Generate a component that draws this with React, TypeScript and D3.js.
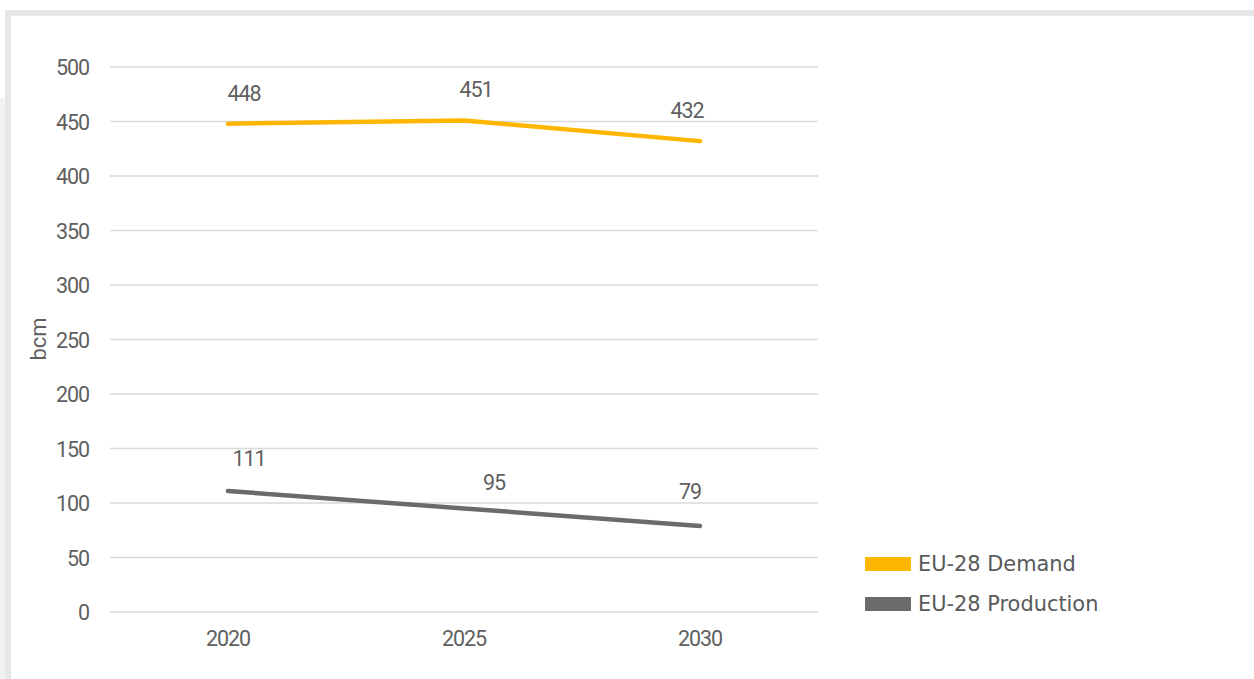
import React from "react";
import * as d3 from "d3";

const years = ["2020", "2025", "2030"];
const demand = [448, 451, 432];
const production = [111, 95, 79];
const yTicks = [0, 50, 100, 150, 200, 250, 300, 350, 400, 450, 500];
const seriesNames = ["EU-28 Demand", "EU-28 Production"];
const seriesColors = ["#FFB600", "#6B6B6B"];
// manual label nudges (layout only)
const demandLabelOffsets = [[16, -23], [12, -23], [-13, -23]];
const productionLabelOffsets = [[21, -25], [30, -18], [-10, -27]];

export default function App() {
  const W = 1254, H = 679;
  const x = d3.scalePoint<string>().domain(years).range([110, 818]).padding(0.5);
  const y = d3.scaleLinear().domain([0, 500]).range([612, 67]);
  const line = d3.line<number>().x((_, i) => x(years[i])!).y((v) => y(v));
  const font = "Roboto, 'DejaVu Sans Condensed', sans-serif";
  const fs = 21.5;
  const ls = -1.1;
  const series = [demand, production];
  const offsets = [demandLabelOffsets, productionLabelOffsets];
  return (
    <svg width={W} height={H} style={{ position: "absolute", left: 0, top: 0 }}>
      <rect x={0} y={0} width={W} height={H} fill="#fff" />
      <rect x={0} y={98} width={5} height={H - 98} fill="#f1f1f1" />
      <rect x={5} y={10} width={W - 5} height={6} fill="#e6e6e6" />
      <rect x={5} y={10} width={6} height={H - 10} fill="#e6e6e6" />
      {yTicks.map((t) => (
        <g key={t}>
          <line x1={110} x2={818} y1={y(t)} y2={y(t)} stroke="#d9d9d9" strokeWidth={1.3} />
          <text x={89} y={y(t) + 8} textAnchor="end" fontFamily={font} fontSize={fs} letterSpacing={ls} fill="#5f5f5f">{t}</text>
        </g>
      ))}
      {years.map((yr) => (
        <text key={yr} x={x(yr)} y={646} textAnchor="middle" fontFamily={font} fontSize={fs} letterSpacing={ls} fill="#5f5f5f">{yr}</text>
      ))}
      <text transform="translate(46,339) rotate(-90)" textAnchor="middle" fontFamily={font} fontSize={22} fill="#5f5f5f">bcm</text>
      {series.map((s, si) => (
        <path key={si} d={line(s)!} fill="none" stroke={seriesColors[si]} strokeWidth={4.5} strokeLinecap="round" strokeLinejoin="round" />
      ))}
      {series.map((s, si) =>
        s.map((v, i) => (
          <text key={`${si}-${i}`} x={x(years[i])! + offsets[si][i][0]} y={y(v) + offsets[si][i][1]} textAnchor="middle" fontFamily={font} fontSize={fs} letterSpacing={ls} fill="#5f5f5f">{v}</text>
        ))
      )}
      {seriesNames.map((n, i) => (
        <g key={n}>
          <rect x={865} y={557 + i * 40} width={46} height={14} fill={seriesColors[i]} />
          <text x={918} y={571 + i * 40} fontFamily="'DejaVu Sans', Verdana, sans-serif" fontSize={20.9} fill="#595959">{n}</text>
        </g>
      ))}
    </svg>
  );
}
